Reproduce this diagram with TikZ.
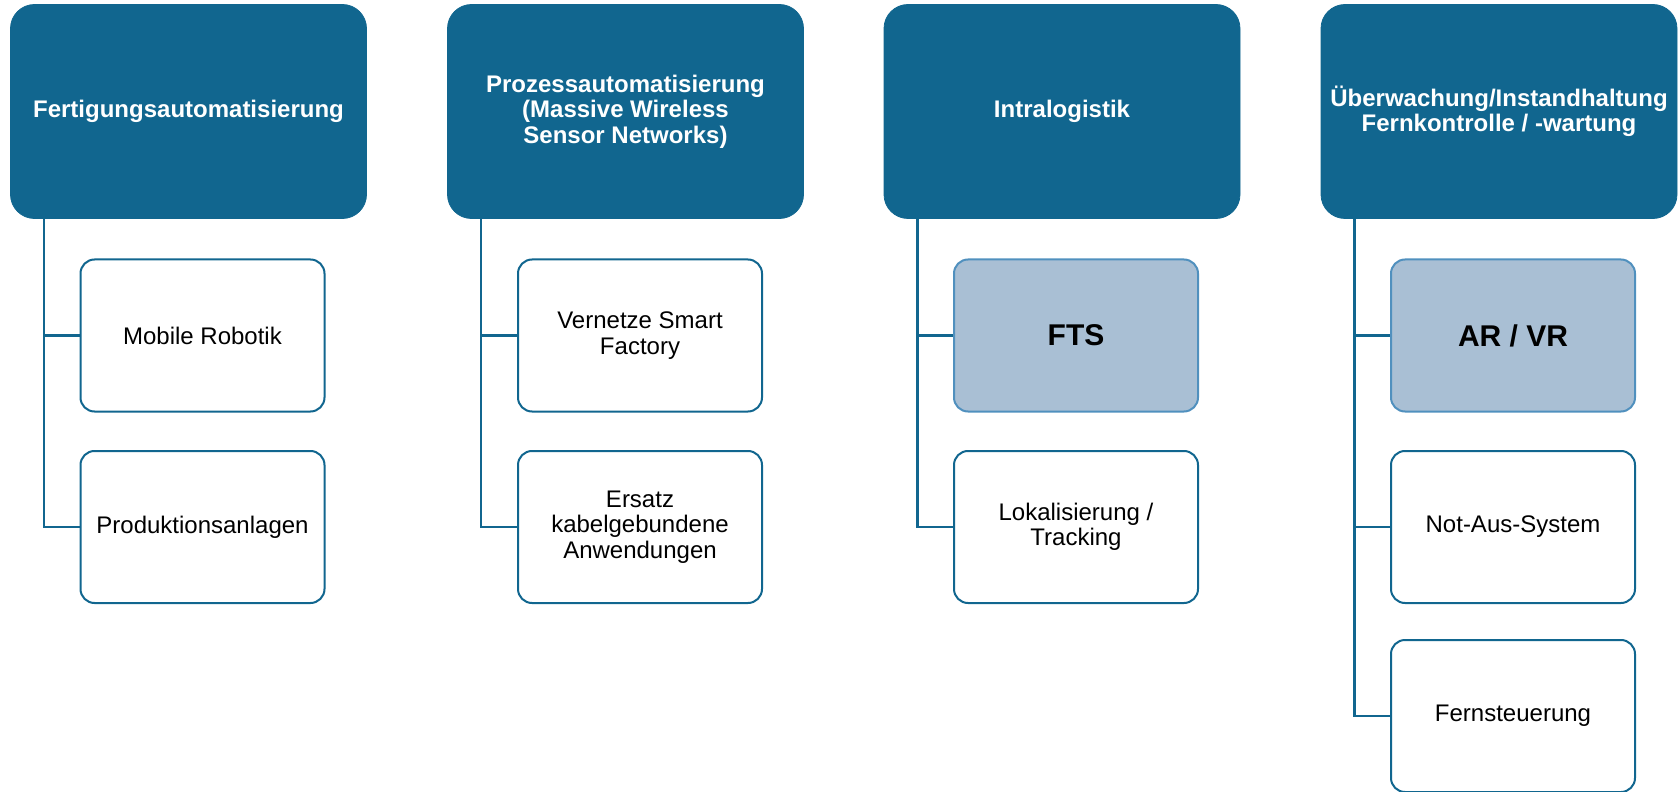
\documentclass[tikz,border=0pt]{standalone}
\usepackage{fontspec}
\setmainfont{Liberation Sans}
\usepackage{tikz}
\usetikzlibrary{positioning}
\definecolor{caseBlue}{HTML}{11668F}
\definecolor{caseLight}{HTML}{A9BFD4}
\definecolor{caseEdge}{HTML}{5090BE}

\begin{document}
\begin{tikzpicture}[
  x=0.5pt,y=-0.5pt,
  font=\fontsize{12}{12.75}\selectfont,
  area/.style={draw=caseBlue,fill=caseBlue,rounded corners=12pt,minimum width=178pt,
               minimum height=107pt,align=center,text=white,
               font=\fontsize{12}{12.75}\selectfont\bfseries},
  usecase/.style={draw=caseBlue,line width=1pt,fill=white,rounded corners=7pt,
                  minimum width=122pt,minimum height=76pt,align=center},
  focus/.style={usecase,draw=caseEdge,fill=caseLight,font=\fontsize{15}{16}\selectfont\bfseries},
  link/.style={draw=caseBlue,line width=1.2pt}
]
\useasboundingbox (0,0) rectangle (1678,792);

\node[area] (fa) at (188.5,111.5)  {Fertigungsautomatisierung};
\node[area] (pa) at (625.5,111.5)  {Prozessautomatisierung\\(Massive Wireless\\Sensor Networks)};
\node[area] (il) at (1062,111.5)   {Intralogistik};
\node[area] (ue) at (1499,111.5)   {Überwachung/Instandhaltung\\Fernkontrolle / -wartung};

\node[usecase] (fa1) at (202.5,335.5) {Mobile Robotik};
\node[usecase] (fa2) at (202.5,527)   {Produktionsanlagen};
\node[usecase] (pa1) at (640,335.5)   {Vernetze Smart\\Factory};
\node[usecase] (pa2) at (640,527)     {Ersatz\\kabelgebundene\\Anwendungen};
\node[focus]   (il1) at (1076,335.5)  {FTS};
\node[usecase] (il2) at (1076,527)    {Lokalisierung /\\Tracking};
\node[focus]   (ue1) at (1513,335.5)  {AR / VR};
\node[usecase] (ue2) at (1513,527)    {Not-Aus-System};
\node[usecase] (ue3) at (1513,716)    {Fernsteuerung};

% Tree lines
\foreach \h/\c in {fa/fa1,fa/fa2,pa/pa1,pa/pa2,il/il1,il/il2,ue/ue1,ue/ue2,ue/ue3}
  \draw[link] ([xshift=17pt]\h.south west) |- (\c.west);
\end{tikzpicture}
\end{document}
